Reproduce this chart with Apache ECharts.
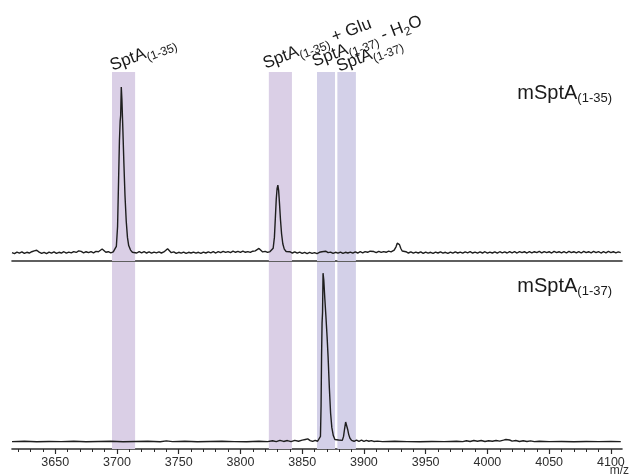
<!DOCTYPE html>
<html>
<head>
<meta charset="utf-8">
<script src="https://cdn.jsdelivr.net/npm/echarts@6/dist/echarts.min.js"></script>
<style>
  html, body { margin: 0; padding: 0; background: #fff; }
  #main { width: 632px; height: 475px; }
</style>
</head>
<body>
<div id="main"></div>
<script>
// m/z range and axis ticks
var mzMin = 3615, mzMax = 4109;
var majorTicks = [3650, 3700, 3750, 3800, 3850, 3900, 3950, 4000, 4050, 4100];
var minorTicks = [3620, 3630, 3640, 3660, 3670, 3680, 3690, 3710, 3720, 3730, 3740, 3760, 3770, 3780, 3790,
  3810, 3820, 3830, 3840, 3860, 3870, 3880, 3890, 3910, 3920, 3930, 3940, 3960, 3970, 3980, 3990,
  4010, 4020, 4030, 4040, 4060, 4070, 4080, 4090];

// shaded bands [start, end] (m/z)
var bands = [[3696, 3714.7], [3823, 3841.7], [3862, 3876.6], [3878.5, 3893.5]];
var bandColors = ['#dacfe6', '#dacfe6', '#d3d0e8', '#d3d0e8'];

// peak labels (rich text) drawn over the bands
var peakLabels = [
  '{a|SptA}{s|(1-35)}',
  '{a|SptA}{s|(1-35)}{a| + Glu}',
  '{a|SptA}{s|(1-37)}{a| - H}{s|2}{a|O}',
  '{a|SptA}{s|(1-37)}'
];

// spectrum names
var spectrumNames = [['mSptA', '(1-35)'], ['mSptA', '(1-37)']];

// top spectrum: mSptA(1-35)  [m/z, relative intensity]
var topSpectrum = [
  [3615, 0.6], [3617, 0.1], [3619, 0.9], [3621, 0.3], [3623, 1.0], [3625, 0.2], [3627, 0.8], [3629, 0.4],
  [3631, 1.1], [3633, 1.6], [3635, 1.9], [3637, 0.9], [3639, 0.2], [3641, 0.8], [3643, 0.1], [3645, 0.9],
  [3647, 0.3], [3649, 1.0], [3651, 0.2], [3653, 0.8], [3655, 0.4], [3657, 1.1], [3659, 0.3], [3661, 0.9],
  [3663, 0.5], [3665, 1.2], [3667, 0.7], [3669, 1.6], [3671, 1.3], [3673, 0.5], [3675, 1.1], [3677, 0.6],
  [3679, 1.2], [3681, 0.5], [3683, 1.3], [3685, 1.1], [3686.5, 2.2], [3688, 2.6], [3689.5, 1.7], [3691, 0.8],
  [3693, 1.1], [3695, 0.5], [3697, 1.0], [3698.5, 1.2], [3699.5, 4], [3700.5, 15], [3701.3, 40], [3702, 62],
  [3702.6, 73], [3703, 76], [3703.5, 91.7], [3704, 85], [3704.8, 68], [3705.6, 50], [3706.5, 32], [3707.5, 18],
  [3708.5, 9], [3709.5, 4.5], [3711, 2], [3712.5, 0.8], [3714, 1.1], [3716, 0.4], [3718, 1.2], [3720, 0.5],
  [3722, 1.1], [3724, 0.4], [3726, 1.0], [3728, 0.3], [3730, 0.9], [3732, 0.5], [3734, 1.0], [3736, 0.4],
  [3738, 1.0], [3739.5, 1.8], [3741, 2.7], [3742.5, 1.6], [3744, 0.6], [3746, 1.0], [3748, 0.2], [3750, 0.8],
  [3752, 0.3], [3754, 0.9], [3756, 0.2], [3758, 0.8], [3760, 0.4], [3762, 0.9], [3764, 0.3], [3766, 0.8],
  [3768, 0.2], [3770, 0.9], [3772, 0.4], [3774, 1.0], [3776, 0.5], [3778, 1.1], [3780, 0.4], [3782, 1.2],
  [3784, 0.6], [3786, 1.3], [3788, 0.7], [3790, 1.2], [3792, 0.6], [3794, 1.4], [3796, 0.8], [3798, 1.3],
  [3800, 0.7], [3802, 1.4], [3804, 0.8], [3806, 1.2], [3808, 0.7], [3810, 1.4], [3812, 1.6], [3813.5, 2.6],
  [3815, 2.9], [3816.5, 1.9], [3818, 1.0], [3820, 1.3], [3822, 0.7], [3824, 1.2], [3825.5, 1], [3826.5, 3],
  [3827.5, 9], [3828.3, 20], [3829, 30], [3829.7, 36], [3830.3, 37.8], [3830.9, 35], [3831.6, 28], [3832.4, 19],
  [3833.3, 11], [3834.3, 5.5], [3835.5, 2.5], [3837, 1.2], [3838.5, 0.5], [3840, 1.1], [3842, 0.4], [3844, 1.0],
  [3846, 0.3], [3848, 0.9], [3850, 0.2], [3852, 0.8], [3854, 0.1], [3856, 0.7], [3858, 0.2], [3860, 0.6],
  [3862, 0.1], [3864, 0.8], [3866, 1.1], [3867.5, 1.7], [3869, 1.4], [3871, 0.6], [3873, 0.9], [3875, 0.2],
  [3877, 0.8], [3879, 0.3], [3881, 0.9], [3883, 0.2], [3885, 0.8], [3887, 0.4], [3889, 0.9], [3891, 0.3],
  [3893, 1.0], [3895, 0.4], [3897, 1.1], [3899, 0.5], [3901, 1.2], [3903, 0.8], [3905, 1.4], [3906.5, 1.8],
  [3908, 1.2], [3910, 0.6], [3912, 1.3], [3914, 0.7], [3916, 1.2], [3918, 0.8], [3920, 1.4], [3922, 1.0],
  [3923.5, 1.6], [3924.5, 2], [3926, 3.8], [3927, 5.8], [3927.8, 6.4], [3928.8, 5], [3929.8, 3], [3931, 1.5],
  [3932.5, 0.6], [3934, 1.1], [3936, 0.4], [3938, 1.0], [3940, 0.3], [3942, 0.9], [3944, 0.4], [3946, 1.0],
  [3948, 0.2], [3950, 0.9], [3952, 0.3], [3954, 0.8], [3956, 0.2], [3958, 0.9], [3960, 0.4], [3962, 1.0],
  [3964, 0.3], [3966, 0.8], [3968, 0.2], [3970, 0.9], [3972, 0.3], [3974, 1.0], [3976, 0.4], [3978, 0.9],
  [3980, 0.3], [3982, 1.0], [3984, 0.5], [3986, 1.1], [3988, 0.4], [3990, 0.9], [3992, 0.3], [3994, 1.0],
  [3996, 0.4], [3998, 1.1], [4000, 0.3], [4002, 0.9], [4004, 0.4], [4006, 1.0], [4008, 0.3], [4010, 1.1],
  [4012, 0.5], [4014, 1.0], [4016, 0.4], [4018, 1.2], [4020, 0.5], [4022, 1.1], [4024, 0.4], [4026, 1.2],
  [4028, 0.6], [4030, 1.1], [4032, 0.4], [4034, 1.2], [4036, 0.5], [4038, 1.1], [4040, 0.6], [4042, 1.3],
  [4044, 0.5], [4046, 1.2], [4048, 0.6], [4050, 1.1], [4052, 0.4], [4054, 1.3], [4056, 0.6], [4058, 1.1],
  [4060, 0.5], [4062, 1.2], [4064, 0.4], [4066, 1.3], [4068, 0.6], [4070, 1.1], [4072, 0.5], [4074, 1.2],
  [4076, 0.4], [4078, 1.3], [4080, 0.6], [4082, 1.1], [4084, 0.5], [4086, 1.3], [4088, 0.6], [4090, 1.2],
  [4092, 0.4], [4094, 1.1], [4096, 0.5], [4098, 1.3], [4100, 0.6], [4102, 1.1], [4104, 0.5], [4106, 1.0],
  [4108, 0.6]
];

// bottom spectrum: mSptA(1-37)
var bottomSpectrum = [
  [3615, 0.1], [3625, 0.3], [3635, 0.0], [3645, 0.2], [3655, 0.1], [3665, 0.3], [3675, 0.0], [3685, 0.2],
  [3695, 0.3], [3705, 0.0], [3715, 0.2], [3725, 0.3], [3735, 0.0], [3740, 0.5], [3745, 0.1], [3755, 0.3],
  [3765, 0.0], [3775, 0.2], [3785, 0.3], [3795, 0.1], [3805, 0.0], [3815, 0.3], [3822, 0.1], [3826, 0.6],
  [3829, 0.1], [3832, 0.8], [3835, 0.2], [3838, 0.7], [3841, 0.1], [3844, 0.8], [3847, 0.3], [3850, 0.9],
  [3852.5, 1.3], [3854.5, 1.6], [3856.5, 0.7], [3858.5, 0.2], [3860.5, 0.8], [3862.5, 0.3], [3864, 0.5],
  [3864.8, 3], [3865.3, 20], [3865.7, 48], [3866.1, 66], [3866.5, 72], [3866.9, 93.8], [3867.5, 90],
  [3868.3, 80], [3869.2, 70], [3870.2, 58], [3871, 47], [3872, 30], [3873, 16], [3874, 8], [3875.2, 3.5],
  [3876.5, 1.3], [3878, 0.5], [3879.5, 1.0], [3881, 0.4], [3882.5, 0.8], [3883.5, 3], [3884.3, 7],
  [3885.2, 11], [3886, 10], [3886.8, 7], [3887.7, 4], [3888.7, 2], [3890, 0.8], [3892, 0.3], [3894, 1.0],
  [3896, 0.3], [3898, 0.9], [3900, 0.2], [3902, 0.8], [3904, 0.3], [3906, 0.7], [3908, 0.2], [3911, 0.4],
  [3915, 0.1], [3925, 0.3], [3935, 0.1], [3945, 0.0], [3955, 0.2], [3965, 0.1], [3975, 0.3], [3980, 0.1],
  [3983, 0.6], [3986, 0.2], [3989, 0.7], [3992, 0.3], [3995, 0.7], [3998, 0.2], [4001, 0.6], [4004, 0.3],
  [4007, 0.7], [4010, 0.4], [4013, 0.9], [4015, 1.3], [4016.5, 1.6], [4018, 1.0], [4020, 0.4], [4023, 0.7],
  [4026, 0.2], [4029, 0.6], [4032, 0.2], [4035, 0.5], [4038, 0.1], [4042, 0.3], [4050, 0.1], [4060, 0.2],
  [4070, 0.0], [4080, 0.2], [4090, 0.1], [4100, 0.2], [4108, 0.1]
];

var FONT = '"Liberation Sans", Arial, sans-serif';
var chart = echarts.init(document.getElementById('main'), null, { renderer: 'canvas' });

function bandAreas() {
  return bands.map(function (b, i) {
    return [{ xAxis: b[0], itemStyle: { color: bandColors[i] } }, { xAxis: b[1] }];
  });
}

function xBase(grid) {
  return {
    type: 'value', gridIndex: grid, min: mzMin, max: mzMax, position: 'bottom',
    splitLine: { show: false },
    axisLine: { show: true, onZero: false, lineStyle: { color: '#2b2b2b', width: 1.6 } },
    axisTick: { show: false },
    axisLabel: { show: false }
  };
}

var xTop = xBase(0);
var xBottom = xBase(1);
xBottom.axisTick = { show: true, inside: false, length: 5, customValues: majorTicks, lineStyle: { color: '#2b2b2b', width: 1.2 } };
xBottom.axisLabel = {
  show: true, customValues: majorTicks, margin: 7, color: '#2e2e2e', fontSize: 12.5, fontFamily: FONT,
  formatter: function (v) { return String(v); }
};
var xMinor = xBase(1);
xMinor.axisLine = { show: false, onZero: false };
xMinor.axisTick = { show: true, inside: false, length: 3, customValues: minorTicks, lineStyle: { color: '#2b2b2b', width: 1 } };

var option = {
  animation: false,
  backgroundColor: '#fff',
  grid: [
    { left: 12, right: 10, top: 72, height: 189 },
    { left: 12, right: 10, top: 262, height: 187 }
  ],
  xAxis: [xTop, xBottom, xMinor],
  yAxis: [
    { type: 'value', gridIndex: 0, min: -4, max: 100, show: false },
    { type: 'value', gridIndex: 1, min: -4, max: 100, show: false }
  ],
  series: [
    {
      type: 'line', xAxisIndex: 0, yAxisIndex: 0, data: topSpectrum, showSymbol: false, silent: true,
      lineStyle: { color: '#1e1e1e', width: 1.4 },
      markArea: { silent: true, data: bandAreas() }
    },
    {
      type: 'line', xAxisIndex: 1, yAxisIndex: 1, data: bottomSpectrum, showSymbol: false, silent: true,
      lineStyle: { color: '#1e1e1e', width: 1.4 },
      markArea: { silent: true, data: bandAreas() }
    }
  ]
};
chart.setOption(option);

// labels placed from the axis scale
var labelDx = [3, -1, 0, 4];
var labelY = [77, 75, 73, 78];
var graphics = peakLabels.map(function (t, i) {
  var px = chart.convertToPixel({ xAxisIndex: 0 }, bands[i][0]);
  return {
    type: 'text', x: px + labelDx[i], y: labelY[i], rotation: 21 * Math.PI / 180, z: 10,
    style: {
      text: t, align: 'left', verticalAlign: 'bottom', fill: '#1a1a1a',
      rich: {
        a: { fontSize: 17, fontFamily: FONT, fill: '#1a1a1a', verticalAlign: 'top' },
        s: { fontSize: 12, fontFamily: FONT, fill: '#1a1a1a', verticalAlign: 'top', padding: [8, 0, 0, 0] }
      }
    }
  };
});
var nameTops = [83, 276];
spectrumNames.forEach(function (n, i) {
  graphics.push({
    type: 'text', right: 20, top: nameTops[i], z: 10,
    style: {
      text: '{a|' + n[0] + '}{s|' + n[1] + '}', fill: '#1a1a1a',
      rich: {
        a: { fontSize: 20, fontFamily: FONT, fill: '#1a1a1a', verticalAlign: 'top' },
        s: { fontSize: 13, fontFamily: FONT, fill: '#1a1a1a', verticalAlign: 'top', padding: [9, 0, 0, 0] }
      }
    }
  });
});
graphics.push({
  type: 'text', right: 3, top: 465, z: 10,
  style: { text: 'm/z', fontSize: 12, fontFamily: FONT, fill: '#333' }
});
chart.setOption({ graphic: graphics });
</script>
</body>
</html>
